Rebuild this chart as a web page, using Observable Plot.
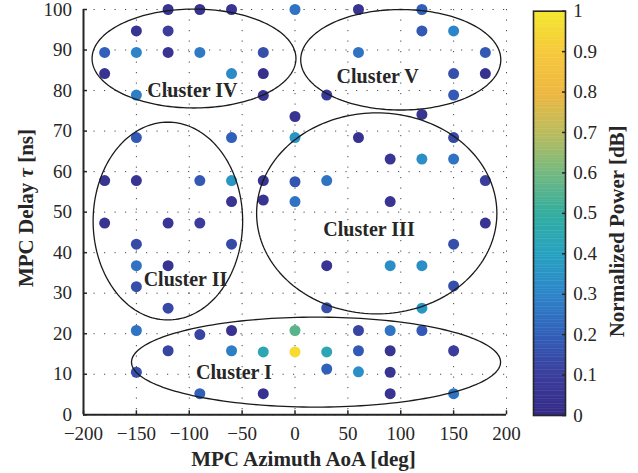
<!DOCTYPE html>
<html>
<head>
<meta charset="utf-8">
<script src="https://cdn.jsdelivr.net/npm/d3@7"></script>
<script src="https://cdn.jsdelivr.net/npm/@observablehq/plot@0.6"></script>
<style>
  body { margin: 0; background: #fff; }
  #wrap { position: relative; width: 638px; height: 473px; font-family: "Liberation Serif", serif; color: #262626; overflow: hidden; }
  #wrap svg { position: absolute; top: 0; overflow: visible; }
  #ylab { position: absolute; left: 26px; top: 208px; transform: translate(-50%, -50%) rotate(-90deg); white-space: nowrap; font-weight: bold; font-size: 21px; }
</style>
</head>
<body>
<div id="wrap"><div id="ylab">MPC Delay <i>τ</i> [ns]</div></div>
<script>
// ---- data ----
const azimuth = [
  -120, -90, -60, 0, -150, -120, -180, -150, -120, -90, -30, -180, -60, -30, -150, -30,
  60, 120, 120, 150, 60, 180, 150, 180, 30, 150,
  0, 120, -150, -60, 0, 60, 150, 90, 120, 150,
  -180, -150, -90, -60, -30, 0, 30, 180,
  -60, -30, 0, 90, -180, -120, -90, 180,
  -150, -60, 150, -150, -120, 30, 90, 120, -150, 150, -120, 30, 120,
  -150, -90, -60, 0, 60, 90, 120,
  -120, -60, -30, 0, 30, 60, 90, 150,
  -150, 30, 60, 90, -90, -30, 90, 150
];
const delay = [
  100, 100, 100, 100, 94.7, 94.7, 89.4, 89.4, 89.4, 89.4, 89.4, 84.2, 84.2, 84.2, 78.9, 78.8,
  100, 100, 94.7, 94.7, 89.4, 89.4, 84.2, 84.2, 78.9, 78.9,
  73.6, 74.1, 68.4, 68.4, 68.4, 68.4, 68.4, 63.1, 63.1, 63.1,
  57.8, 57.8, 57.8, 57.8, 57.8, 57.5, 57.8, 57.8,
  52.6, 53.0, 52.6, 52.6, 47.3, 47.3, 47.3, 47.3,
  42.1, 42.1, 42.1, 36.8, 36.8, 36.8, 36.8, 36.8, 31.6, 31.8, 26.3, 26.4, 26.3,
  20.8, 19.8, 20.8, 20.8, 20.8, 20.8, 20.8,
  15.8, 15.8, 15.5, 15.5, 15.5, 15.8, 15.8, 15.8,
  10.5, 11.3, 10.6, 10.5, 5.2, 5.2, 5.2, 5.2
];
const power = [
  0.05, 0.05, 0.05, 0.25, 0.05, 0.10, 0.20, 0.30, 0.05, 0.27, 0.15, 0.05, 0.32, 0.03, 0.28, 0.05,
  0.05, 0.20, 0.18, 0.30, 0.25, 0.18, 0.15, 0.04, 0.08, 0.18,
  0.05, 0.05, 0.18, 0.20, 0.35, 0.04, 0.13, 0.06, 0.33, 0.25,
  0.05, 0.05, 0.18, 0.36, 0.05, 0.17, 0.25, 0.10,
  0.05, 0.05, 0.25, 0.05, 0.05, 0.06, 0.10, 0.05,
  0.14, 0.14, 0.15, 0.25, 0.05, 0.06, 0.33, 0.33, 0.15, 0.15, 0.13, 0.15, 0.36,
  0.25, 0.12, 0.04, 0.56, 0.12, 0.25, 0.18,
  0.12, 0.28, 0.44, 0.96, 0.44, 0.18, 0.05, 0.10,
  0.15, 0.20, 0.33, 0.05, 0.20, 0.04, 0.05, 0.25
];

const clusterNames = ["Cluster I", "Cluster II", "Cluster III", "Cluster IV", "Cluster V"];
const ellipseCx = [19.9, -120.2, 77.3, -95.5, 100];
const ellipseCy = [13.0, 47.8, 49.7, 87.9, 87.6];
const ellipseRx = [174.5, 70.7, 113.6, 96.4, 94.6];
const ellipseRy = [11.1, 24.4, 24.8, 12.2, 12.4];
const labelX = [-57.7, -103.6, 70, -97, 78.1];
const labelY = [10.5, 33.4, 45.6, 80.0, 83.5];

const xTicks = [-200, -150, -100, -50, 0, 50, 100, 150, 200];
const yTicks = [0, 10, 20, 30, 40, 50, 60, 70, 80, 90, 100];
const cbTicks = [0, 0.1, 0.2, 0.3, 0.4, 0.5, 0.6, 0.7, 0.8, 0.9, 1];
const cbStops = [0, 0.1, 0.2, 0.3, 0.4, 0.5, 0.6, 0.7, 0.8, 0.9, 1];
const cbColors = ["#352a87", "#3a3d9c", "#3160ba", "#2d85c9", "#27a2c1", "#33ad9e",
                  "#74b97f", "#bcbc5c", "#efb73f", "#f6c93a", "#f4e72c"];

const xLabel = "MPC Azimuth AoA [deg]";
const cbLabel = "Normalized Power [dB]";

// ---- build tables ----
const points = azimuth.map((a, i) => ({x: a, y: delay[i], v: power[i]}));
const ellipsePts = [];
clusterNames.forEach((name, k) => {
  for (let t = 0; t <= 360; t += 2) {
    const r = t * Math.PI / 180;
    ellipsePts.push({name, x: ellipseCx[k] + ellipseRx[k] * Math.cos(r), y: ellipseCy[k] + ellipseRy[k] * Math.sin(r)});
  }
});
const labels = clusterNames.map((n, i) => ({text: n, x: labelX[i], y: labelY[i]}));

const colorScale = {type: "linear", domain: cbStops, range: cbColors};
const fmtX = d => d < 0 ? "\u2212" + (-d) : String(d);
const ink = "#262626";
const fontFamily = "'Liberation Serif', serif";

const main = Plot.plot({
  width: 638, height: 473,
  marginLeft: 83, marginRight: 132, marginTop: 9, marginBottom: 58.7,
  x: {domain: [-200, 200]},
  y: {domain: [0, 100]},
  color: colorScale,
  style: {fontFamily, fontSize: "19px", color: ink, background: "transparent"},
  marks: [
    Plot.gridX(xTicks, {stroke: "#333", strokeOpacity: 0.9, strokeWidth: 1, strokeDasharray: "1.2,9.3"}),
    Plot.gridY(yTicks, {stroke: "#333", strokeOpacity: 0.9, strokeWidth: 1, strokeDasharray: "1.2,9.3"}),
    Plot.dot(points, {x: "x", y: "y", fill: "v", r: 5.5}),
    Plot.line(ellipsePts, {x: "x", y: "y", z: "name", stroke: "#1a1a1a", strokeWidth: 1.3}),
    Plot.text(labels, {x: "x", y: "y", text: "text", fontWeight: "bold", fontSize: 20, fill: ink}),
    Plot.ruleY([0], {stroke: ink, strokeWidth: 2}),
    Plot.ruleX([-200], {stroke: ink, strokeWidth: 2}),
    Plot.axisX({ticks: xTicks, tickSize: -4, tickPadding: 16, tickFormat: fmtX, label: null, stroke: ink, strokeWidth: 1.5}),
    Plot.axisY({ticks: yTicks, tickSize: -4, tickPadding: 15.6, label: null, stroke: ink, strokeWidth: 1.5}),
    Plot.text([xLabel], {frameAnchor: "bottom", lineAnchor: "middle", textAnchor: "middle", dx: 8.5, dy: 44.7, fontWeight: "bold", fontSize: 21, fill: ink})
  ]
});
main.style.left = "0px";

const cbSteps = d3.range(0, 1, 0.004);
const bar = Plot.plot({
  width: 118, height: 473,
  marginLeft: 13, marginRight: 73, marginTop: 10.7, marginBottom: 58,
  x: {domain: [0, 1], axis: null},
  y: {domain: [0, 1], axis: null},
  color: colorScale,
  style: {fontFamily, fontSize: "19px", color: ink, background: "transparent"},
  marks: [
    Plot.rect(cbSteps, {x1: 0, x2: 1, y1: d => d, y2: d => Math.min(1, d + 0.005), fill: d => d + 0.002}),
    Plot.frame({stroke: ink, strokeWidth: 1.6}),
    Plot.axisY({anchor: "right", ticks: cbTicks, tickSize: -4, tickPadding: 11.7, label: null,
                tickFormat: d => (d === 0 || d === 1) ? String(d) : d.toFixed(1), stroke: ink, strokeWidth: 1.5}),
    Plot.text([cbLabel], {frameAnchor: "right", textAnchor: "middle", lineAnchor: "middle", rotate: -90, dx: 52, dy: 18, fontWeight: "bold", fontSize: 21, fill: ink})
  ]
});
bar.style.left = "520px";

const wrap = document.getElementById("wrap");
wrap.appendChild(main);
wrap.appendChild(bar);
</script>
</body>
</html>
